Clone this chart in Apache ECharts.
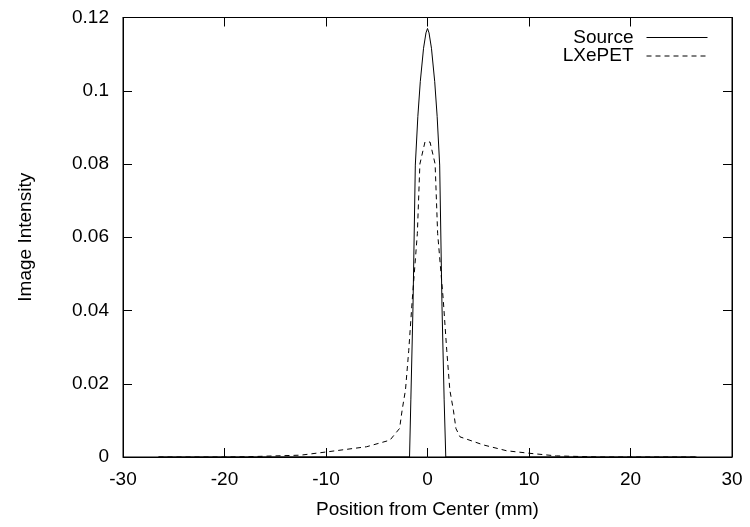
<!DOCTYPE html>
<html>
<head>
<meta charset="utf-8">
<script src="https://cdn.jsdelivr.net/npm/echarts@6/dist/echarts.min.js"></script>
<style>html,body{margin:0;padding:0;background:#fff}#c{width:750px;height:527px}</style>
</head>
<body>
<div id="c"></div>
<script>
const xTicks = [-30, -20, -10, 0, 10, 20, 30];
const yTicks = [0, 0.02, 0.04, 0.06, 0.08, 0.1, 0.12];
const seriesNames = ['Source', 'LXePET'];
const sourceX = [-26.5, -1.77, -1.64, -1.43, -1.2, -0.95, -0.71, -0.39, -0.15, 0, 0.15, 0.39, 0.71, 0.95, 1.2, 1.43, 1.64, 1.8, 26.5];
const sourceY = [0, 0, 0.0156, 0.041, 0.0797, 0.093, 0.1025, 0.1116, 0.1158, 0.117, 0.1158, 0.1116, 0.1025, 0.093, 0.0797, 0.041, 0.0156, 0, 0];
const lxeX = [-26.5, -20, -17.5, -12.5, -9.9, -6, -3.7, -2.75, -2.5, -2.17, -1.85, -1.5, -1.0, -0.75, -0.25, 0.25, 0.75, 1.0, 1.55, 1.9, 2.2, 2.55, 2.8, 3.2, 5.5, 7.8, 10.1, 12.7, 17, 26.5];
const lxeY = [0, 0, 0.0001, 0.0005, 0.0014, 0.0028, 0.0046, 0.0078, 0.0128, 0.0183, 0.029, 0.043, 0.061, 0.08, 0.086, 0.086, 0.08, 0.061, 0.043, 0.029, 0.0183, 0.0128, 0.0078, 0.0055, 0.0033, 0.0017, 0.001, 0.0003, 0, 0];

const FONT = 'Liberation Sans, Arial, sans-serif';
const pair = (xs, ys) => xs.map((x, i) => [x, ys[i]]);
const chart = echarts.init(document.getElementById('c'), null, {renderer: 'canvas'});
const axisCommon = () => ({
  axisLine: {show: true, onZero: false, lineStyle: {color: '#000', width: 1}},
  axisTick: {show: true, inside: true, length: 9, lineStyle: {color: '#000', width: 1}},
  splitLine: {show: false}
});
const legendCommon = {
  right: 37, align: 'right', orient: 'vertical', itemWidth: 61, itemHeight: 14,
  itemStyle: {opacity: 0, color: 'transparent', borderWidth: 0},
  lineStyle: {width: 1},
  textStyle: {fontFamily: FONT, fontSize: 19, color: '#000', padding: [0, 8, 0, 0]}, selectedMode: false
};
chart.setOption({
  animation: false,
  backgroundColor: '#fff',
  grid: {left: 123, right: 18, top: 17.5, bottom: 70, show: true, borderColor: '#000', borderWidth: 1},
  legend: [
    Object.assign({data: [{name: seriesNames[0]}], top: 23}, legendCommon),
    Object.assign({data: [{name: seriesNames[1]}], top: 41.5}, legendCommon)
  ],
  xAxis: [
    Object.assign({type: 'value', min: xTicks[0], max: xTicks[xTicks.length - 1], interval: 10, position: 'bottom',
      name: 'Position from Center (mm)', nameLocation: 'middle', nameGap: 43,
      nameTextStyle: {fontFamily: FONT, fontSize: 19, color: '#000'},
      axisLabel: {fontFamily: FONT, fontSize: 19, color: '#000', margin: 13}}, axisCommon()),
    Object.assign({type: 'value', min: xTicks[0], max: xTicks[xTicks.length - 1], interval: 10, position: 'top',
      axisLabel: {show: false}}, axisCommon())
  ],
  yAxis: [
    Object.assign({type: 'value', min: yTicks[0], max: yTicks[yTicks.length - 1], interval: 0.02, position: 'left',
      name: 'Image Intensity', nameLocation: 'middle', nameGap: 88,
      nameTextStyle: {fontFamily: FONT, fontSize: 19, color: '#000'},
      axisLabel: {fontFamily: FONT, fontSize: 19, color: '#000', margin: 14,
        formatter: v => String(+v.toFixed(2))}}, axisCommon()),
    Object.assign({type: 'value', min: yTicks[0], max: yTicks[yTicks.length - 1], interval: 0.02, position: 'right',
      axisLabel: {show: false}}, axisCommon())
  ],
  series: [
    {name: seriesNames[0], type: 'line', data: pair(sourceX, sourceY), symbol: 'none', xAxisIndex: 0, yAxisIndex: 0,
     lineStyle: {color: '#000', width: 1, type: 'solid'}, itemStyle: {color: '#000'}},
    {name: seriesNames[1], type: 'line', data: pair(lxeX, lxeY), symbol: 'none', xAxisIndex: 0, yAxisIndex: 0,
     lineStyle: {color: '#000', width: 1, type: [5, 4]}, itemStyle: {color: '#000'}}
  ]
});
</script>
</body>
</html>
